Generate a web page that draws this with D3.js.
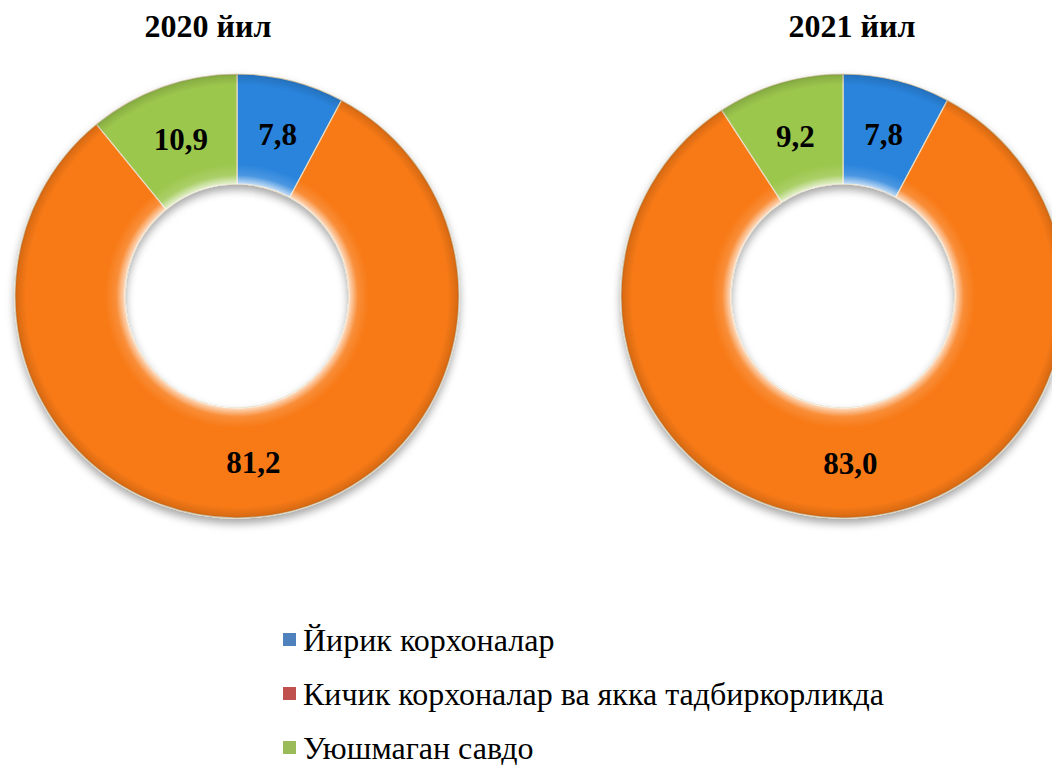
<!DOCTYPE html>
<html>
<head>
<meta charset="utf-8">
<script src="https://cdn.jsdelivr.net/npm/d3@7"></script>
<style>
  html, body { margin: 0; padding: 0; background: #fff; overflow: hidden; }
  svg { display: block; }
</style>
</head>
<body>
<svg id="chart" width="1052" height="767"></svg>
<script>
// Segment names (legend order) and shares, %
const categories = ["Йирик корхоналар", "Кичик корхоналар ва якка тадбиркорликда", "Уюшмаган савдо"];
const years = ["2020 йил", "2021 йил"];
const values2020 = [7.8, 81.2, 10.9];
const values2021 = [7.8, 83.0, 9.2];
const valueLabels2020 = ["7,8", "81,2", "10,9"];
const valueLabels2021 = ["7,8", "83,0", "9,2"];

const sliceColors = ["#2a84dc", "#f87a12", "#9cc74e"];
const legendColors = ["#4f81bd", "#c0504d", "#9bbb59"];
const FONT = '"Liberation Serif"';

const svg = d3.select("#chart");
const defs = svg.append("defs");

// soft shadow under each ring
const shadow = defs.append("filter").attr("id", "ringShadow")
  .attr("x", "-20%").attr("y", "-20%").attr("width", "140%").attr("height", "140%");
shadow.append("feDropShadow").attr("dx", 0).attr("dy", 5)
  .attr("stdDeviation", 4).attr("flood-color", "#000").attr("flood-opacity", 0.35);

const outerR = 222, innerR = 112;
const centers = [[237, 296], [843, 296]];

// bevel shading: light rim on the inner edge, slightly darker rim on the outer edge
const bevel = defs.append("radialGradient").attr("id", "bevel")
  .attr("gradientUnits", "objectBoundingBox").attr("cx", 0.5).attr("cy", 0.5).attr("r", 0.5);
const k = innerR / outerR;
[
  [0, "#fff", 0],
  [k, "#fff", 0.75],
  [k + 0.04, "#fff", 0.15],
  [k + 0.09, "#fff", 0],
  [0.95, "#000", 0],
  [0.99, "#000", 0.12],
  [1, "#000", 0.2]
].forEach(([o, c, a]) => bevel.append("stop").attr("offset", o).attr("stop-color", c).attr("stop-opacity", a));

const pie = d3.pie().sort(null).value(d => d).startAngle(0).endAngle(2 * Math.PI);
const arc = d3.arc().innerRadius(innerR).outerRadius(outerR);
const labelArc = d3.arc().innerRadius((innerR + outerR) / 2).outerRadius((innerR + outerR) / 2);

[[values2020, valueLabels2020], [values2021, valueLabels2021]].forEach(([vals, labs], i) => {
  const g = svg.append("g").attr("transform", `translate(${centers[i][0]},${centers[i][1]})`);
  const ring = g.append("g").attr("filter", "url(#ringShadow)");
  const arcs = pie(vals);
  ring.selectAll("path.slice").data(arcs).join("path")
    .attr("class", "slice")
    .attr("d", arc)
    .attr("fill", (d, j) => sliceColors[j])
    .attr("stroke", "#e9dcc0").attr("stroke-width", 1.2);
  // shading overlay over the whole ring
  g.append("path")
    .attr("d", d3.arc().innerRadius(innerR).outerRadius(outerR).startAngle(0).endAngle(2 * Math.PI)())
    .attr("fill", "url(#bevel)")
    .attr("pointer-events", "none");
  g.selectAll("text.val").data(arcs).join("text")
    .attr("class", "val")
    .attr("transform", d => `translate(${labelArc.centroid(d)})`)
    .attr("text-anchor", "middle")
    .attr("dy", "0.35em")
    .style("font-family", FONT)
    .style("font-weight", "bold")
    .style("font-size", "31px")
    .attr("fill", "#000")
    .text((d, j) => labs[j]);
});

// titles
const titleX = [208, 852];
svg.selectAll("text.title").data(years).join("text")
  .attr("class", "title")
  .attr("x", (d, i) => titleX[i]).attr("y", 37)
  .attr("text-anchor", "middle")
  .style("font-family", FONT)
  .style("font-weight", "bold")
  .style("font-size", "32px")
  .attr("fill", "#000")
  .text(d => d);

// legend
const legendY = d3.scalePoint().domain(categories).range([640, 748]);
const legend = svg.append("g");
legend.selectAll("rect").data(categories).join("rect")
  .attr("x", 283).attr("y", d => legendY(d) - 7)
  .attr("width", 13).attr("height", 13)
  .attr("fill", (d, i) => legendColors[i]);
legend.selectAll("text").data(categories).join("text")
  .attr("x", 303).attr("y", d => legendY(d))
  .attr("dy", "0.35em")
  .style("font-family", FONT)
  .style("font-size", "32px")
  .attr("fill", "#000")
  .text(d => d);
</script>
</body>
</html>
